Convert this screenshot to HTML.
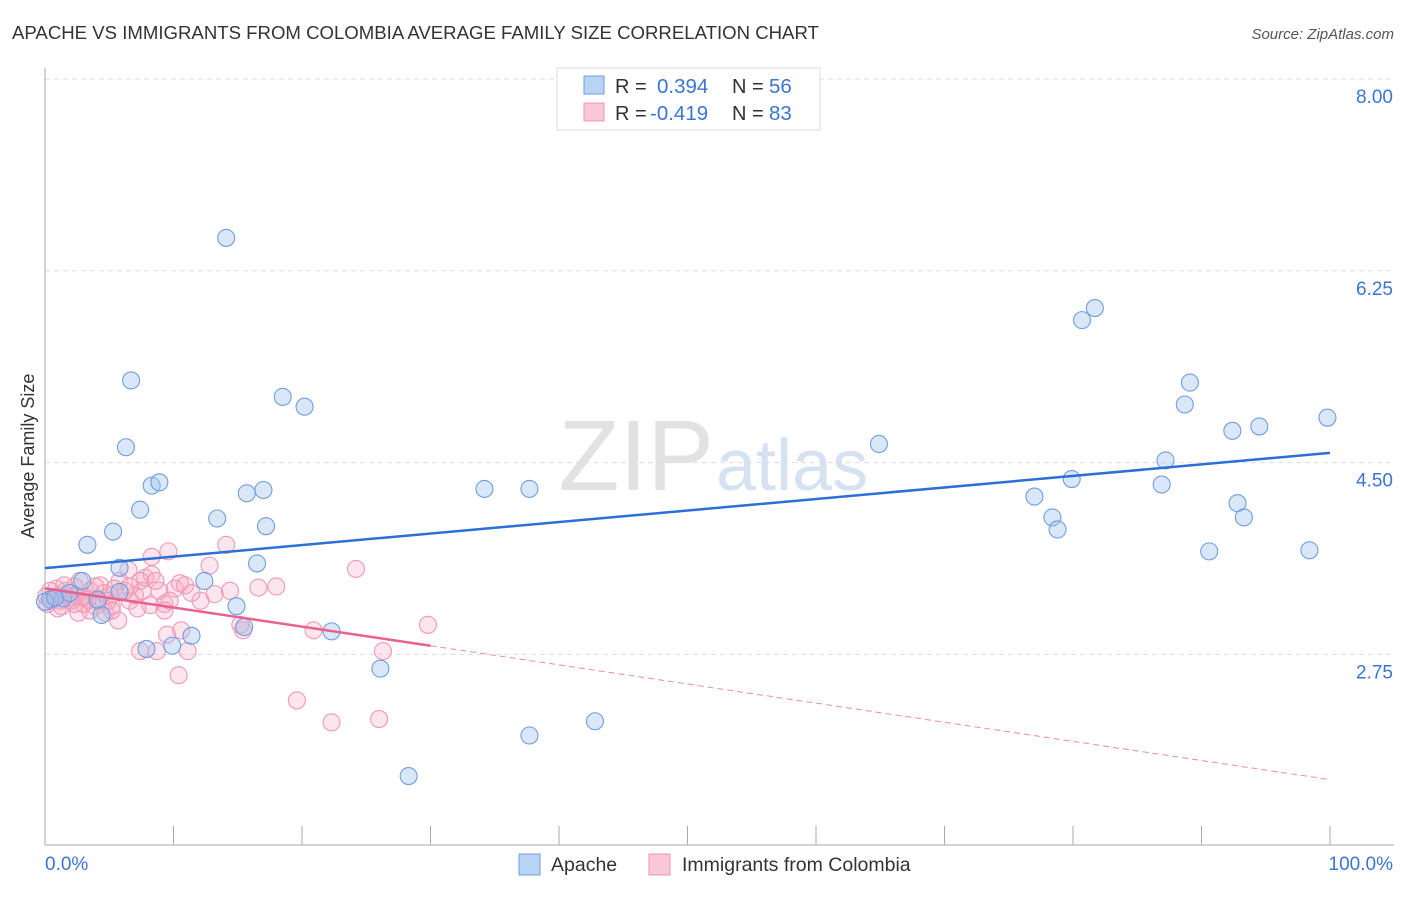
<!DOCTYPE html>
<html><head><meta charset="utf-8"><style>
body{margin:0;background:#fff;font-family:"Liberation Sans",sans-serif;}
svg text{font-family:"Liberation Sans",sans-serif;}
</style></head><body>
<svg id="chart" width="1406" height="892">
<text x="12" y="39" font-size="18.6" fill="#333">APACHE VS IMMIGRANTS FROM COLOMBIA AVERAGE FAMILY SIZE CORRELATION CHART</text>
<text x="1394" y="39" font-size="15" fill="#555" text-anchor="end" font-style="italic">Source: ZipAtlas.com</text>
<text x="714" y="490" font-size="100" fill="#e2e2e2" text-anchor="end" font-family="Liberation Serif">ZIP</text>
<text x="716" y="490" font-size="72" fill="#d6e2f2">atlas</text>
<g id="grid"></g><g id="axes"></g><g id="marks"></g>
<text transform="translate(34,456) rotate(-90)" font-size="18" fill="#333" text-anchor="middle">Average Family Size</text>
<g>
<rect x="557" y="68" width="263" height="62" fill="#fff" stroke="#ddd"/>
<rect x="584" y="76" width="20" height="18" fill="#b9d3f5" stroke="#6f9ee0"/>
<rect x="584" y="103" width="20" height="18" fill="#f9c7d6" stroke="#ec97b1"/>
<text x="615" y="93" font-size="20" fill="#333">R = </text><text x="657" y="93" font-size="20.5" fill="#3a75d4">0.394</text>
<text x="732" y="93" font-size="20" fill="#333">N = </text><text x="769" y="93" font-size="20.5" fill="#3a75d4">56</text>
<text x="615" y="120" font-size="20" fill="#333">R = </text><text x="650" y="120" font-size="20.5" fill="#3a75d4">-0.419</text>
<text x="732" y="120" font-size="20" fill="#333">N = </text><text x="769" y="120" font-size="20.5" fill="#3a75d4">83</text>
</g>
<g>
<rect x="519" y="854" width="21" height="21" fill="#b9d3f5" stroke="#6f9ee0"/>
<text x="551" y="871" font-size="19.5" fill="#333">Apache</text>
<rect x="649" y="854" width="21" height="21" fill="#f9c7d6" stroke="#ec97b1"/>
<text x="682" y="871" font-size="19.5" fill="#333">Immigrants from Colombia</text>
</g>
</svg>
<script>
const yTicks=[8.00,6.25,4.50,2.75];
const xTickLabels=["0.0%","100.0%"];
const apacheX=[14.1,6.7,6.3,18.5,20.2,8.3,8.9,7.4,15.7,17.0,13.4,17.2,3.3,5.3,5.8,16.5,12.4,14.9,4.4,11.4,9.9,7.9,15.5,22.3,26.1,37.7,42.8,28.3,34.2,37.7,64.9,80.7,81.7,89.1,88.7,92.4,94.5,99.8,87.2,79.9,77.0,86.9,78.4,78.8,92.8,93.3,90.6,98.4,2.9,1.4,0.4,0.0,0.8,1.9,4.1,5.8];
const apacheY=[6.55,5.25,4.64,5.10,5.01,4.29,4.32,4.07,4.22,4.25,3.99,3.92,3.75,3.87,3.54,3.58,3.42,3.19,3.11,2.92,2.83,2.80,3.00,2.96,2.62,2.01,2.14,1.64,4.26,4.26,4.67,5.80,5.91,5.23,5.03,4.79,4.83,4.91,4.52,4.35,4.19,4.30,4.00,3.89,4.13,4.00,3.69,3.70,3.42,3.26,3.25,3.23,3.27,3.31,3.25,3.32];
const colX=[14.1,9.6,8.3,12.8,6.5,24.2,18.0,16.6,13.2,10.5,10.1,10.9,7.8,8.3,7.4,8.9,9.3,6.6,5.7,4.7,3.9,3.1,2.3,1.6,1.0,0.5,0.2,1.3,2.1,2.7,3.5,4.3,5.1,5.8,7.0,5.2,6.2,3.5,2.6,1.8,0.9,15.4,20.9,26.3,29.8,7.4,8.7,9.5,10.6,11.1,10.4,19.6,22.3,26.0,12.1,8.2,9.7,11.4,14.4,15.2,0.7,1.2,1.6,2.3,2.9,3.9,4.6,5.4,6.6,7.6,8.6,9.3,4.9,4.1,3.3,2.4,1.5,0.4,0.1,1.0,3.0,5.2,7.2];
const colY=[3.75,3.69,3.64,3.56,3.52,3.53,3.37,3.36,3.30,3.40,3.35,3.38,3.45,3.48,3.42,3.33,3.21,3.24,3.06,3.13,3.19,3.28,3.37,3.33,3.28,3.24,3.21,3.19,3.24,3.42,3.33,3.38,3.29,3.42,3.29,3.19,3.33,3.15,3.13,3.26,3.35,2.97,2.97,2.78,3.02,2.78,2.78,2.93,2.97,2.78,2.56,2.33,2.13,2.16,3.24,3.20,3.24,3.31,3.33,3.02,3.26,3.24,3.29,3.21,3.27,3.37,3.31,3.35,3.37,3.33,3.42,3.15,3.24,3.24,3.25,3.29,3.38,3.33,3.28,3.17,3.21,3.15,3.17];
const X0=45,X1=1330,YT=79,PX=109.6;
const sx=v=>X0+(X1-X0)*v/100, sy=v=>YT+(8-v)*PX;
const NS="http://www.w3.org/2000/svg";
function mk(tag,attrs,parent){const e=document.createElementNS(NS,tag);for(const k in attrs)e.setAttribute(k,attrs[k]);document.getElementById(parent).appendChild(e);return e;}
yTicks.forEach(t=>{
 const l=mk("line",{x1:45,x2:1394,y1:sy(t),y2:sy(t),stroke:"#ddd","stroke-dasharray":"5,4"},"grid");
 
 
 const tx=mk("text",{x:1393,y:sy(t)+24,"font-size":19,fill:"#3a75d4","text-anchor":"end"},"grid");
 tx.textContent=t.toFixed(2);
 
 
});
const ax=mk("line",{x1:45,x2:45,y1:68,y2:845,stroke:"#aaa"},"axes");


const bx=mk("line",{x1:45,x2:1394,y1:845,y2:845,stroke:"#aaa"},"axes");


for(let i=0;i<=10;i++){const t=mk("line",{x1:sx(i*10),x2:sx(i*10),y1:826,y2:845,stroke:"#aaa"},"axes");
 
 }
xTickLabels.forEach((s,i)=>{const t=mk("text",{x:i?1393:45,y:870,"font-size":19,fill:"#3a75d4","text-anchor":i?"end":"start"},"axes");t.textContent=s;
 
 });
colX.forEach((x,i)=>{const c=mk("circle",{cx:sx(x),cy:sy(colY[i]),r:8.5,fill:"rgba(246,170,195,0.3)",stroke:"#ef9ab5","stroke-width":1.1},"marks");
 
 });
apacheX.forEach((x,i)=>{const c=mk("circle",{cx:sx(x),cy:sy(apacheY[i]),r:8.5,fill:"rgba(160,195,240,0.4)",stroke:"#6f9ee0","stroke-width":1.1},"marks");
 
 });
function fit(xs,ys){const n=xs.length;let mx=0,my=0;xs.forEach((v,i)=>{mx+=v;my+=ys[i];});mx/=n;my/=n;let a=0,b=0;xs.forEach((v,i)=>{a+=(v-mx)*(ys[i]-my);b+=(v-mx)*(v-mx);});const s=a/b;return x=>my+s*(x-mx);}
const fb=fit(apacheX,apacheY), fc=fit(colX,colY);
const l1=mk("line",{x1:sx(0),y1:sy(fb(0)),x2:sx(100),y2:sy(fb(100)),stroke:"#2c6fd6","stroke-width":2.5},"marks");


const l2=mk("line",{x1:sx(0),y1:sy(fc(0)),x2:sx(30),y2:sy(fc(30)),stroke:"#e8628d","stroke-width":2.5},"marks");


const l3=mk("line",{x1:sx(30),y1:sy(fc(30)),x2:sx(100),y2:sy(fc(100)),stroke:"#eb8aa8","stroke-width":1,"stroke-dasharray":"6,4"},"marks");


</script>
</body></html>
